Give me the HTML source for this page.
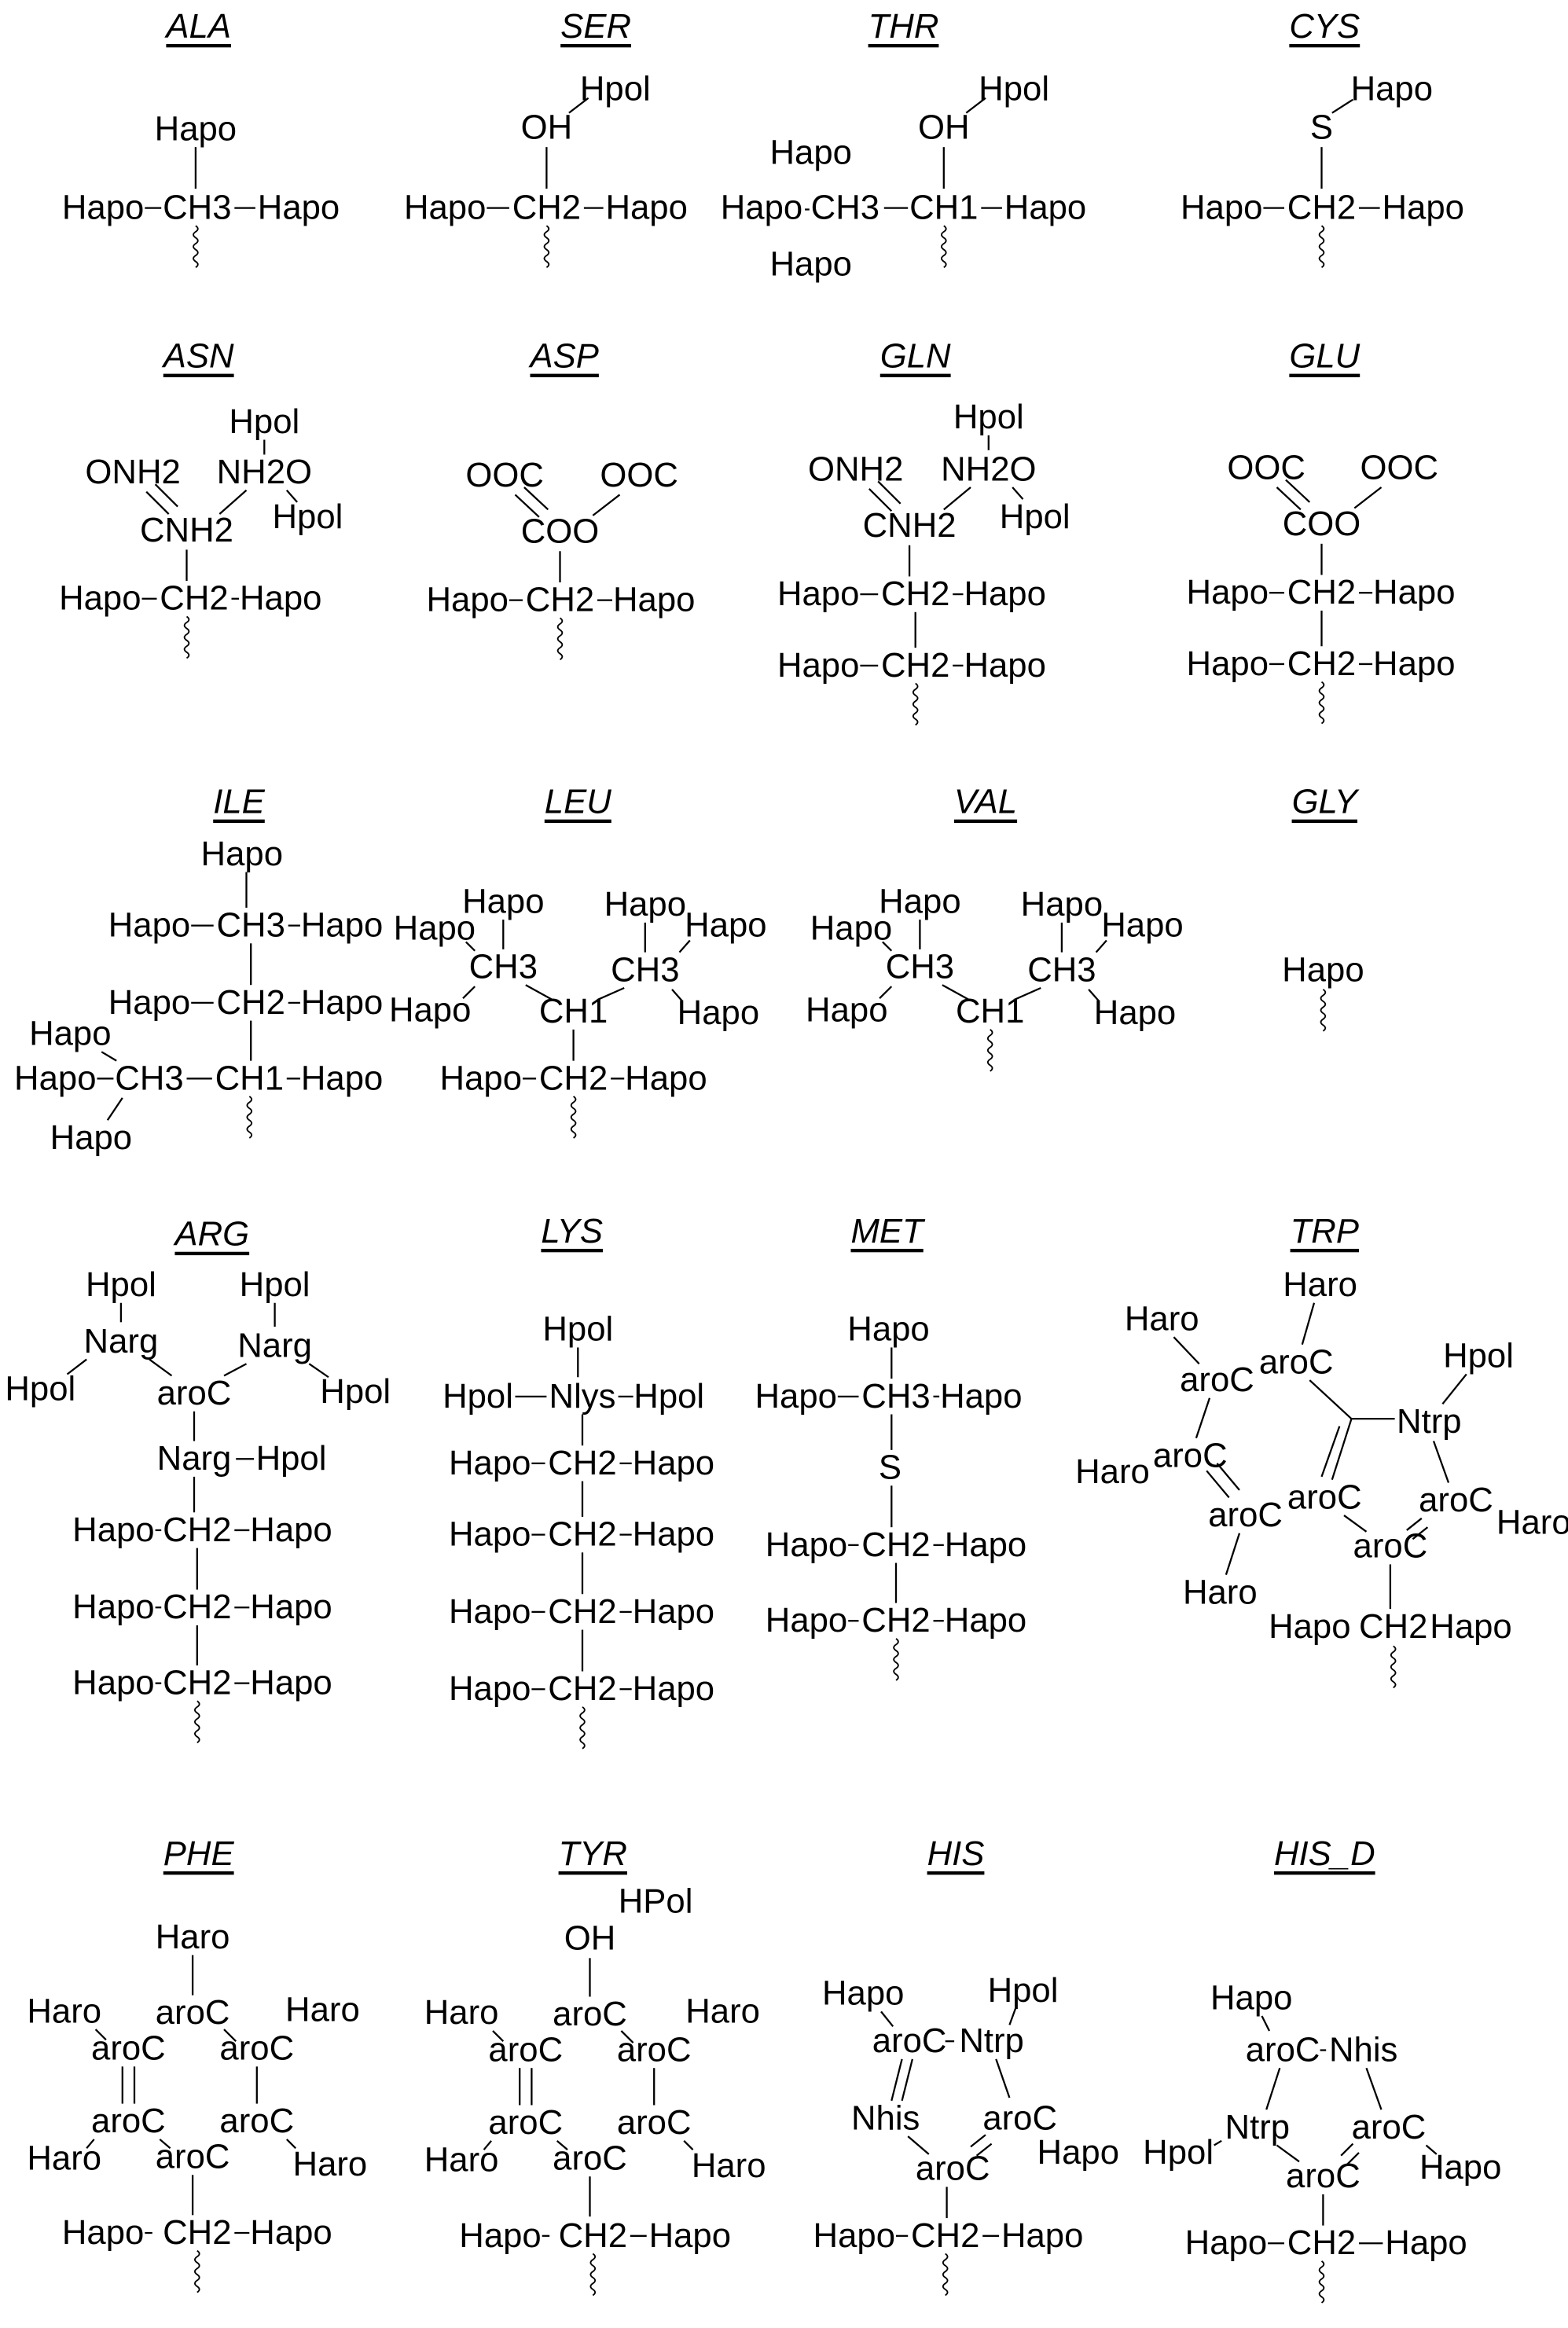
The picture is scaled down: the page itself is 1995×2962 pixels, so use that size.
<!DOCTYPE html>
<html><head><meta charset="utf-8"><style>
html,body{margin:0;padding:0;background:#fff}
svg{display:block}
text{font-family:"Liberation Sans",Arial,sans-serif;font-size:23px;text-anchor:middle;dominant-baseline:central;fill:#000}
.h{font-style:italic;text-decoration:underline}
line{stroke:#000;stroke-width:1.2}
.sq{fill:none;stroke:#000;stroke-width:1}
</style></head><body>
<svg width="1995" height="2962" viewBox="0 0 1050 1567" preserveAspectRatio="none" xmlns="http://www.w3.org/2000/svg">
<defs><path id="s" class="sq" d="M0,0 q3,2 0,4 q-3,2 0,4 q3,2 0,4 q-3,2 0,4 q3,2 0,4 q-3,2 0,4 q3,2 0,4"/></defs>

<!-- ALA -->
<text class="h" x="133" y="18">ALA</text>
<text x="131" y="87">Hapo</text><line x1="131" y1="99" x2="131" y2="127"/>
<text x="69" y="140">Hapo</text><text x="132" y="140">CH3</text><text x="200" y="140">Hapo</text>
<line x1="97" y1="140" x2="108" y2="140"/><line x1="157" y1="140" x2="171" y2="140"/>
<use href="#s" x="131" y="152"/>

<!-- SER -->
<text class="h" x="399" y="18">SER</text>
<text x="412" y="60">Hpol</text><text x="366" y="86">OH</text>
<line x1="381" y1="76" x2="394" y2="66"/><line x1="366" y1="99" x2="366" y2="127"/>
<text x="298" y="140">Hapo</text><text x="366" y="140">CH2</text><text x="433" y="140">Hapo</text>
<line x1="326" y1="140" x2="341" y2="140"/><line x1="391" y1="140" x2="404" y2="140"/>
<use href="#s" x="366" y="152"/>

<!-- THR -->
<text class="h" x="605" y="18">THR</text>
<text x="679" y="60">Hpol</text><text x="632" y="86">OH</text>
<line x1="647" y1="76" x2="660" y2="66"/><line x1="632" y1="99" x2="632" y2="127"/>
<text x="510" y="140">Hapo</text><text x="566" y="140">CH3</text><text x="632" y="140">CH1</text><text x="700" y="140">Hapo</text>
<line x1="539" y1="141" x2="542" y2="141"/><line x1="592" y1="140" x2="608" y2="140"/><line x1="657" y1="140" x2="671" y2="140"/>
<text x="543" y="103">Hapo</text><text x="543" y="178">Hapo</text>
<use href="#s" x="632" y="152"/>

<!-- CYS -->
<text class="h" x="887" y="18">CYS</text>
<text x="932" y="60">Hapo</text><text x="885" y="86">S</text>
<line x1="892" y1="76" x2="906" y2="67"/><line x1="885" y1="99" x2="885" y2="127"/>
<text x="818" y="140">Hapo</text><text x="885" y="140">CH2</text><text x="953" y="140">Hapo</text>
<line x1="846" y1="140" x2="860" y2="140"/><line x1="910" y1="140" x2="924" y2="140"/>
<use href="#s" x="885" y="152"/>

<!-- ASN -->
<text class="h" x="133" y="240">ASN</text>
<text x="177" y="284">Hpol</text><line x1="177" y1="296" x2="177" y2="306"/>
<text x="89" y="318">ONH2</text><text x="177" y="318">NH2O</text><text x="206" y="348">Hpol</text>
<line x1="192" y1="330" x2="199" y2="338"/>
<line x1="98" y1="331" x2="113" y2="346"/><line x1="104" y1="326" x2="119" y2="341"/>
<line x1="165" y1="330" x2="147" y2="346"/>
<text x="125" y="357">CNH2</text><line x1="125" y1="370" x2="125" y2="391"/>
<text x="67" y="403">Hapo</text><text x="130" y="403">CH2</text><text x="188" y="403">Hapo</text>
<line x1="95" y1="403" x2="105" y2="403"/><line x1="155" y1="403" x2="160" y2="403"/>
<use href="#s" x="125" y="415"/>

<!-- ASP -->
<text class="h" x="378" y="240">ASP</text>
<text x="338" y="320">OOC</text><text x="428" y="320">OOC</text><text x="375" y="358">COO</text>
<line x1="345" y1="333" x2="361" y2="348"/><line x1="351" y1="328" x2="367" y2="343"/>
<line x1="415" y1="333" x2="397" y2="347"/><line x1="375" y1="371" x2="375" y2="392"/>
<text x="313" y="404">Hapo</text><text x="375" y="404">CH2</text><text x="438" y="404">Hapo</text>
<line x1="341" y1="404" x2="350" y2="404"/><line x1="400" y1="404" x2="410" y2="404"/>
<use href="#s" x="375" y="416"/>

<!-- GLN -->
<text class="h" x="613" y="240">GLN</text>
<text x="662" y="281">Hpol</text><line x1="662" y1="293" x2="662" y2="303"/>
<text x="573" y="316">ONH2</text><text x="662" y="316">NH2O</text><text x="693" y="348">Hpol</text>
<line x1="678" y1="328" x2="685" y2="336"/>
<line x1="582" y1="329" x2="597" y2="344"/><line x1="588" y1="324" x2="603" y2="339"/>
<line x1="650" y1="328" x2="632" y2="343"/>
<text x="609" y="354">CNH2</text><line x1="609" y1="367" x2="609" y2="388"/>
<text x="548" y="400">Hapo</text><text x="613" y="400">CH2</text><text x="673" y="400">Hapo</text>
<line x1="576" y1="400" x2="588" y2="400"/><line x1="638" y1="400" x2="645" y2="400"/>
<line x1="613" y1="412" x2="613" y2="436"/>
<text x="548" y="448">Hapo</text><text x="613" y="448">CH2</text><text x="673" y="448">Hapo</text>
<line x1="576" y1="448" x2="588" y2="448"/><line x1="638" y1="448" x2="645" y2="448"/>
<use href="#s" x="613" y="460"/>

<!-- GLU -->
<text class="h" x="887" y="240">GLU</text>
<text x="848" y="315">OOC</text><text x="937" y="315">OOC</text><text x="885" y="353">COO</text>
<line x1="855" y1="328" x2="871" y2="343"/><line x1="861" y1="323" x2="877" y2="338"/>
<line x1="925" y1="328" x2="907" y2="342"/><line x1="885" y1="366" x2="885" y2="387"/>
<text x="822" y="399">Hapo</text><text x="885" y="399">CH2</text><text x="947" y="399">Hapo</text>
<line x1="850" y1="399" x2="860" y2="399"/><line x1="910" y1="399" x2="919" y2="399"/>
<line x1="885" y1="411" x2="885" y2="435"/>
<text x="822" y="447">Hapo</text><text x="885" y="447">CH2</text><text x="947" y="447">Hapo</text>
<line x1="850" y1="447" x2="860" y2="447"/><line x1="910" y1="447" x2="919" y2="447"/>
<use href="#s" x="885" y="459"/>

<!-- ILE -->
<text class="h" x="160" y="540">ILE</text>
<text x="162" y="575">Hapo</text><line x1="165" y1="587" x2="165" y2="611"/>
<text x="100" y="623">Hapo</text><text x="168" y="623">CH3</text><text x="229" y="623">Hapo</text>
<line x1="128" y1="623" x2="143" y2="623"/><line x1="193" y1="623" x2="201" y2="623"/>
<line x1="168" y1="635" x2="168" y2="663"/>
<text x="100" y="675">Hapo</text><text x="168" y="675">CH2</text><text x="229" y="675">Hapo</text>
<line x1="128" y1="675" x2="143" y2="675"/><line x1="193" y1="675" x2="201" y2="675"/>
<line x1="168" y1="687" x2="168" y2="714"/>
<text x="37" y="726">Hapo</text><text x="100" y="726">CH3</text><text x="167" y="726">CH1</text><text x="229" y="726">Hapo</text>
<line x1="65" y1="726" x2="76" y2="726"/><line x1="125" y1="726" x2="142" y2="726"/><line x1="192" y1="726" x2="201" y2="726"/>
<text x="47" y="696">Hapo</text><line x1="68" y1="708" x2="78" y2="714"/>
<text x="61" y="766">Hapo</text><line x1="72" y1="754" x2="82" y2="739"/>
<use href="#s" x="167" y="738"/>

<!-- LEU -->
<text class="h" x="387" y="540">LEU</text>
<text x="337" y="607">Hapo</text><line x1="337" y1="619" x2="337" y2="639"/>
<text x="291" y="625">Hapo</text><line x1="312" y1="634" x2="318" y2="640"/>
<text x="337" y="651">CH3</text>
<text x="288" y="680">Hapo</text><line x1="310" y1="672" x2="318" y2="664"/>
<line x1="352" y1="663" x2="370" y2="673"/>
<text x="384" y="681">CH1</text>
<text x="432" y="609">Hapo</text><line x1="432" y1="621" x2="432" y2="641"/>
<text x="486" y="623">Hapo</text><line x1="462" y1="633" x2="455" y2="641"/>
<text x="432" y="653">CH3</text>
<text x="481" y="682">Hapo</text><line x1="457" y1="674" x2="450" y2="666"/>
<line x1="418" y1="665" x2="400" y2="673"/>
<line x1="384" y1="693" x2="384" y2="714"/>
<text x="322" y="726">Hapo</text><text x="384" y="726">CH2</text><text x="446" y="726">Hapo</text>
<line x1="350" y1="726" x2="359" y2="726"/><line x1="409" y1="726" x2="418" y2="726"/>
<use href="#s" x="384" y="738"/>

<!-- VAL -->
<text class="h" x="660" y="540">VAL</text>
<g transform="translate(279,0)">
<text x="337" y="607">Hapo</text><line x1="337" y1="619" x2="337" y2="639"/>
<text x="291" y="625">Hapo</text><line x1="312" y1="634" x2="318" y2="640"/>
<text x="337" y="651">CH3</text>
<text x="288" y="680">Hapo</text><line x1="310" y1="672" x2="318" y2="664"/>
<line x1="352" y1="663" x2="370" y2="673"/>
<text x="384" y="681">CH1</text>
<text x="432" y="609">Hapo</text><line x1="432" y1="621" x2="432" y2="641"/>
<text x="486" y="623">Hapo</text><line x1="462" y1="633" x2="455" y2="641"/>
<text x="432" y="653">CH3</text>
<text x="481" y="682">Hapo</text><line x1="457" y1="674" x2="450" y2="666"/>
<line x1="418" y1="665" x2="400" y2="673"/>
<use href="#s" x="384" y="693"/>
</g>

<!-- GLY -->
<text class="h" x="887" y="540">GLY</text>
<text x="886" y="653">Hapo</text><use href="#s" x="886" y="666"/>

<!-- ARG -->
<text class="h" x="142" y="831">ARG</text>
<text x="81" y="865">Hpol</text><line x1="81" y1="877" x2="81" y2="890"/>
<text x="184" y="865">Hpol</text><line x1="184" y1="877" x2="184" y2="893"/>
<text x="81" y="903">Narg</text><text x="184" y="906">Narg</text>
<text x="27" y="935">Hpol</text><line x1="45" y1="925" x2="58" y2="915"/>
<text x="238" y="937">Hpol</text><line x1="220" y1="927" x2="207" y2="918"/>
<text x="130" y="938">aroC</text>
<line x1="100" y1="915" x2="115" y2="926"/><line x1="165" y1="918" x2="150" y2="926"/>
<line x1="130" y1="950" x2="130" y2="970"/>
<text x="130" y="982">Narg</text><line x1="158" y1="982" x2="170" y2="982"/><text x="195" y="982">Hpol</text>
<line x1="130" y1="994" x2="130" y2="1018"/>
<text x="76" y="1030">Hapo</text><text x="132" y="1030">CH2</text><text x="195" y="1030">Hapo</text>
<line x1="104" y1="1030" x2="108" y2="1030"/><line x1="157" y1="1030" x2="167" y2="1030"/>
<line x1="132" y1="1042" x2="132" y2="1070"/>
<text x="76" y="1082">Hapo</text><text x="132" y="1082">CH2</text><text x="195" y="1082">Hapo</text>
<line x1="104" y1="1082" x2="108" y2="1082"/><line x1="157" y1="1082" x2="167" y2="1082"/>
<line x1="132" y1="1094" x2="132" y2="1121"/>
<text x="76" y="1133">Hapo</text><text x="132" y="1133">CH2</text><text x="195" y="1133">Hapo</text>
<line x1="104" y1="1133" x2="108" y2="1133"/><line x1="157" y1="1133" x2="167" y2="1133"/>
<use href="#s" x="132" y="1145"/>

<!-- LYS -->
<text class="h" x="383" y="829">LYS</text>
<text x="387" y="895">Hpol</text><line x1="387" y1="907" x2="387" y2="927"/>
<text x="320" y="940">Hpol</text><line x1="345" y1="940" x2="366" y2="940"/>
<text x="390" y="940">Nlys</text><line x1="414" y1="940" x2="424" y2="940"/><text x="448" y="940">Hpol</text>
<line x1="390" y1="952" x2="390" y2="973"/>
<text x="328" y="985">Hapo</text><text x="390" y="985">CH2</text><text x="451" y="985">Hapo</text>
<line x1="356" y1="985" x2="365" y2="985"/><line x1="415" y1="985" x2="423" y2="985"/>
<line x1="390" y1="997" x2="390" y2="1021"/>
<text x="328" y="1033">Hapo</text><text x="390" y="1033">CH2</text><text x="451" y="1033">Hapo</text>
<line x1="356" y1="1033" x2="365" y2="1033"/><line x1="415" y1="1033" x2="423" y2="1033"/>
<line x1="390" y1="1045" x2="390" y2="1073"/>
<text x="328" y="1085">Hapo</text><text x="390" y="1085">CH2</text><text x="451" y="1085">Hapo</text>
<line x1="356" y1="1085" x2="365" y2="1085"/><line x1="415" y1="1085" x2="423" y2="1085"/>
<line x1="390" y1="1097" x2="390" y2="1125"/>
<text x="328" y="1137">Hapo</text><text x="390" y="1137">CH2</text><text x="451" y="1137">Hapo</text>
<line x1="356" y1="1137" x2="365" y2="1137"/><line x1="415" y1="1137" x2="423" y2="1137"/>
<use href="#s" x="390" y="1149"/>

<!-- MET -->
<text class="h" x="594" y="829">MET</text>
<text x="595" y="895">Hapo</text><line x1="597" y1="907" x2="597" y2="928"/>
<text x="533" y="940">Hapo</text><text x="600" y="940">CH3</text><text x="657" y="940">Hapo</text>
<line x1="561" y1="940" x2="575" y2="940"/><line x1="625" y1="940" x2="629" y2="940"/>
<line x1="597" y1="952" x2="597" y2="976"/>
<text x="596" y="988">S</text>
<line x1="597" y1="1000" x2="597" y2="1028"/>
<text x="540" y="1040">Hapo</text><text x="600" y="1040">CH2</text><text x="660" y="1040">Hapo</text>
<line x1="568" y1="1040" x2="575" y2="1040"/><line x1="625" y1="1040" x2="632" y2="1040"/>
<line x1="600" y1="1052" x2="600" y2="1079"/>
<text x="540" y="1091">Hapo</text><text x="600" y="1091">CH2</text><text x="660" y="1091">Hapo</text>
<line x1="568" y1="1091" x2="575" y2="1091"/><line x1="625" y1="1091" x2="632" y2="1091"/>
<use href="#s" x="600" y="1103"/>

<!-- TRP -->
<text class="h" x="887" y="829">TRP</text>
<text x="884" y="865">Haro</text><line x1="880" y1="877" x2="872" y2="905"/>
<text x="868" y="917">aroC</text>
<text x="778" y="888">Haro</text><line x1="786" y1="900" x2="803" y2="918"/>
<text x="815" y="929">aroC</text>
<line x1="877" y1="929" x2="905" y2="955"/><line x1="905" y1="955" x2="934" y2="955"/>
<text x="957" y="957">Ntrp</text>
<text x="990" y="913">Hpol</text><line x1="982" y1="925" x2="966" y2="945"/>
<line x1="960" y1="970" x2="970" y2="998"/>
<text x="975" y="1010">aroC</text>
<text x="1027" y="1025">Haro</text>
<line x1="905" y1="955" x2="892" y2="996"/><line x1="897" y1="960" x2="885" y2="994"/>
<text x="887" y="1008">aroC</text>
<text x="931" y="1041">aroC</text>
<line x1="900" y1="1020" x2="915" y2="1031"/>
<line x1="942" y1="1030" x2="952" y2="1022"/><line x1="946" y1="1036" x2="956" y2="1028"/>
<line x1="810" y1="941" x2="801" y2="968"/>
<text x="797" y="980">aroC</text>
<text x="745" y="991">Haro</text>
<line x1="808" y1="990" x2="823" y2="1008"/><line x1="815" y1="985" x2="830" y2="1003"/>
<text x="834" y="1020">aroC</text>
<line x1="830" y1="1032" x2="821" y2="1060"/>
<text x="817" y="1072">Haro</text>
<line x1="931" y1="1053" x2="931" y2="1083"/>
<text x="877" y="1095">Hapo</text><text x="933" y="1095">CH2</text><text x="985" y="1095">Hapo</text>
<use href="#s" x="933" y="1108"/>

<!-- PHE -->
<text class="h" x="133" y="1248">PHE</text>
<g>
<text x="129" y="1304">Haro</text><line x1="129" y1="1316" x2="129" y2="1343"/>
<text x="129" y="1355">aroC</text>
<text x="43" y="1354">Haro</text><line x1="64" y1="1366" x2="71" y2="1373"/>
<text x="216" y="1353">Haro</text>
<text x="86" y="1379">aroC</text><text x="172" y="1379">aroC</text>
<line x1="150" y1="1366" x2="158" y2="1374"/>
<line x1="82" y1="1391" x2="82" y2="1416"/><line x1="90" y1="1391" x2="90" y2="1416"/>
<line x1="172" y1="1391" x2="172" y2="1416"/>
<text x="86" y="1428">aroC</text><text x="172" y="1428">aroC</text>
<text x="43" y="1453">Haro</text><line x1="58" y1="1446" x2="63" y2="1440"/>
<line x1="107" y1="1440" x2="114" y2="1446"/>
<line x1="192" y1="1440" x2="198" y2="1446"/>
<text x="221" y="1457">Haro</text>
<text x="129" y="1452">aroC</text>
<line x1="129" y1="1464" x2="129" y2="1491"/>
<text x="69" y="1503">Hapo</text><text x="132" y="1503">CH2</text><text x="195" y="1503">Hapo</text>
<line x1="97" y1="1503" x2="102" y2="1503"/><line x1="157" y1="1503" x2="167" y2="1503"/>
<use href="#s" x="132" y="1515"/>
</g>

<!-- TYR -->
<text class="h" x="397" y="1248">TYR</text>
<text x="439" y="1280">HPol</text><text x="395" y="1305">OH</text>
<line x1="395" y1="1318" x2="395" y2="1344"/>
<g transform="translate(266,1)">
<text x="129" y="1355">aroC</text>
<text x="43" y="1354">Haro</text><line x1="64" y1="1366" x2="71" y2="1373"/>
<text x="218" y="1353">Haro</text>
<text x="86" y="1379">aroC</text><text x="172" y="1379">aroC</text>
<line x1="150" y1="1366" x2="158" y2="1374"/>
<line x1="82" y1="1391" x2="82" y2="1416"/><line x1="90" y1="1391" x2="90" y2="1416"/>
<line x1="172" y1="1391" x2="172" y2="1416"/>
<text x="86" y="1428">aroC</text><text x="172" y="1428">aroC</text>
<text x="43" y="1453">Haro</text><line x1="58" y1="1446" x2="63" y2="1440"/>
<line x1="107" y1="1440" x2="114" y2="1446"/>
<line x1="192" y1="1440" x2="198" y2="1446"/>
<text x="222" y="1457">Haro</text>
<text x="129" y="1452">aroC</text>
<line x1="129" y1="1464" x2="129" y2="1491"/>
</g>
<text x="335" y="1505">Hapo</text><text x="397" y="1505">CH2</text><text x="462" y="1505">Hapo</text>
<line x1="363" y1="1505" x2="368" y2="1505"/><line x1="422" y1="1505" x2="433" y2="1505"/>
<use href="#s" x="397" y="1517"/>

<!-- HIS -->
<text class="h" x="640" y="1248">HIS</text>
<text x="578" y="1342">Hapo</text><line x1="590" y1="1354" x2="598" y2="1364"/>
<text x="685" y="1340">Hpol</text><line x1="680" y1="1352" x2="676" y2="1363"/>
<text x="609" y="1374">aroC</text><line x1="633" y1="1374" x2="639" y2="1374"/><text x="664" y="1374">Ntrp</text>
<line x1="604" y1="1386" x2="597" y2="1414"/><line x1="611" y1="1386" x2="604" y2="1414"/>
<line x1="667" y1="1386" x2="676" y2="1412"/>
<text x="593" y="1426">Nhis</text><text x="683" y="1426">aroC</text>
<text x="722" y="1449">Hapo</text>
<line x1="608" y1="1438" x2="622" y2="1450"/>
<line x1="660" y1="1437" x2="650" y2="1445"/><line x1="664" y1="1443" x2="654" y2="1451"/>
<text x="638" y="1460">aroC</text>
<line x1="634" y1="1472" x2="634" y2="1493"/>
<text x="572" y="1505">Hapo</text><text x="633" y="1505">CH2</text><text x="698" y="1505">Hapo</text>
<line x1="600" y1="1505" x2="608" y2="1505"/><line x1="658" y1="1505" x2="669" y2="1505"/>
<use href="#s" x="633" y="1517"/>

<!-- HIS_D -->
<text class="h" x="887" y="1248">HIS_D</text>
<text x="838" y="1345">Hapo</text><line x1="845" y1="1357" x2="850" y2="1367"/>
<text x="859" y="1380">aroC</text><line x1="884" y1="1380" x2="888" y2="1380"/><text x="913" y="1380">Nhis</text>
<line x1="857" y1="1392" x2="848" y2="1420"/>
<line x1="915" y1="1392" x2="925" y2="1420"/>
<text x="842" y="1432">Ntrp</text><text x="930" y="1432">aroC</text>
<text x="789" y="1449">Hpol</text><line x1="813" y1="1444" x2="818" y2="1441"/>
<text x="978" y="1459">Hapo</text><line x1="955" y1="1444" x2="962" y2="1450"/>
<line x1="855" y1="1444" x2="870" y2="1455"/>
<line x1="906" y1="1443" x2="898" y2="1451"/><line x1="910" y1="1449" x2="902" y2="1457"/>
<text x="886" y="1465">aroC</text>
<line x1="886" y1="1477" x2="886" y2="1498"/>
<text x="821" y="1510">Hapo</text><text x="885" y="1510">CH2</text><text x="955" y="1510">Hapo</text>
<line x1="849" y1="1510" x2="860" y2="1510"/><line x1="910" y1="1510" x2="926" y2="1510"/>
<use href="#s" x="885" y="1522"/>
</svg>
</body></html>
